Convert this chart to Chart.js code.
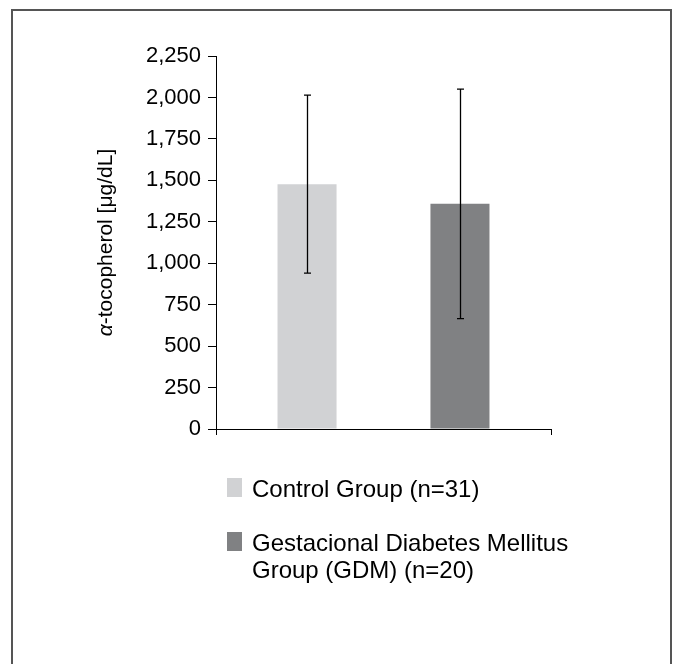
<!DOCTYPE html>
<html>
    <head>
        <meta charset="utf-8"/>
        <title>alpha-tocopherol by group</title>
        <script src="https://cdn.jsdelivr.net/npm/chart.js@4.4.1/dist/chart.umd.min.js"></script>
        <style>
            body { margin: 0; background: #fff; font-family: 'Liberation Sans', Arial, sans-serif; }
            #wrap { position: relative; width: 676px; height: 664px; overflow: hidden; }
            #frame { position: absolute; left: 11px; top: 9px; width: 657px; height: 700px;
                     border: 2px solid #555; border-bottom: none; }
            #legend { position: absolute; left: 227px; top: 475px; font-size: 24px; line-height: 27px; color: #000; }
            .item { display: flex; align-items: flex-start; margin-bottom: 27px; }
            .box { width: 15px; height: 19px; margin-top: 3px; margin-right: 10px; flex: none; }
            .txt { width: 330px; }
        </style>
    </head>

    <body>
        <div id="wrap">
            <div id="frame"></div>
            <div style="position:absolute;left:0;top:0;width:676px;height:664px;">
                <canvas id="chart"></canvas>
            </div>
            <div id="legend"></div>
        </div>

        <script>
           // values (mean +/- SD)
           var groups = ['Control Group (n=31)', 'Gestacional Diabetes Mellitus Group (GDM) (n=20)'];
           var means = [1477, 1358];
           var sds = [537, 692];
           var colors = ['#d1d2d4', '#808183'];
           var yTicksMax = 2250;
           var yStep = 250;
           var yTitleA = 'α';
           var yTitleRest = '-tocopherol [μg/dL]';

           var font = "'Liberation Sans', Arial, sans-serif";

           var datasets = [];
           for (var i = 0; i < groups.length; i++) {
               datasets.push({
                   label: groups[i],
                   data: [means[i]],
                   backgroundColor: colors[i],
                   borderWidth: 0,
                   categoryPercentage: 0.913,
                   barPercentage: 0.386
               });
           }

           var errorBars = {
               id: 'errorBars',
               afterDatasetsDraw: function(chart) {
                   var ctx = chart.ctx;
                   var y = chart.scales.y;
                   ctx.save();
                   ctx.strokeStyle = '#000';
                   ctx.lineWidth = 1.3;
                   for (var i = 0; i < chart.data.datasets.length; i++) {
                       var bar = chart.getDatasetMeta(i).data[0];
                       var x = Math.round(bar.x) + 0.5;
                       var top = y.getPixelForValue(means[i] + sds[i]);
                       var bot = y.getPixelForValue(means[i] - sds[i]);
                       ctx.beginPath();
                       ctx.moveTo(x, top); ctx.lineTo(x, bot);
                       ctx.moveTo(x - 3.5, top); ctx.lineTo(x + 3.5, top);
                       ctx.moveTo(x - 3.5, bot); ctx.lineTo(x + 3.5, bot);
                       ctx.stroke();
                   }
                   ctx.restore();
               }
           };

           var yTitle = {
               id: 'yTitle',
               afterDraw: function(chart) {
                   var ctx = chart.ctx;
                   var cy = (chart.chartArea.top + chart.chartArea.bottom) / 2;
                   ctx.save();
                   ctx.translate(112, cy);
                   ctx.rotate(-Math.PI / 2);
                   ctx.fillStyle = '#000';
                   ctx.textBaseline = 'alphabetic';
                   ctx.font = 'italic 21px ' + font;
                   var wa = ctx.measureText(yTitleA).width;
                   ctx.font = '21px ' + font;
                   var wr = ctx.measureText(yTitleRest).width;
                   var x0 = -(wa + wr) / 2;
                   ctx.font = 'italic 21px ' + font;
                   ctx.fillText(yTitleA, x0, 0);
                   ctx.font = '21px ' + font;
                   ctx.fillText(yTitleRest, x0 + wa, 0);
                   ctx.restore();
               }
           };

           var ctx = document.getElementById("chart");
           var myChart = new Chart(ctx, {
                type: 'bar',
                data: {
                    labels: [''],
                    datasets: datasets
                },
                plugins: [errorBars, yTitle],
                options: {
                    responsive: true,
                    maintainAspectRatio: false,
                    animation: false,
                    layout: {
                        padding: { left: 116, right: 125, top: 56, bottom: 225 }
                    },
                    scales: {
                        x: {
                            afterFit: function(s) { s.height = 10; },
                            ticks: { display: false },
                            grid: { drawOnChartArea: false, color: '#000', tickLength: 6, lineWidth: 1 },
                            border: { color: '#000', width: 1 }
                        },
                        y: {
                            min: 0,
                            max: yTicksMax,
                            afterFit: function(s) { s.width = 100; },
                            ticks: {
                                stepSize: yStep,
                                color: '#000',
                                padding: 7,
                                font: { family: font, size: 22 }
                            },
                            grid: { drawOnChartArea: false, color: '#000', tickLength: 8, lineWidth: 1 },
                            border: { color: '#000', width: 1 }
                        }
                    },
                    plugins: {
                        legend: { display: false },
                        tooltip: { enabled: false }
                    }
                }
           });

           // legend below the plot, text wraps like the original
           var legend = document.getElementById('legend');
           for (var i = 0; i < groups.length; i++) {
               var item = document.createElement('div');
               item.className = 'item';
               var box = document.createElement('div');
               box.className = 'box';
               box.style.background = colors[i];
               var txt = document.createElement('div');
               txt.className = 'txt';
               txt.textContent = groups[i];
               item.appendChild(box);
               item.appendChild(txt);
               legend.appendChild(item);
           }
        </script>
    </body>
</html>
